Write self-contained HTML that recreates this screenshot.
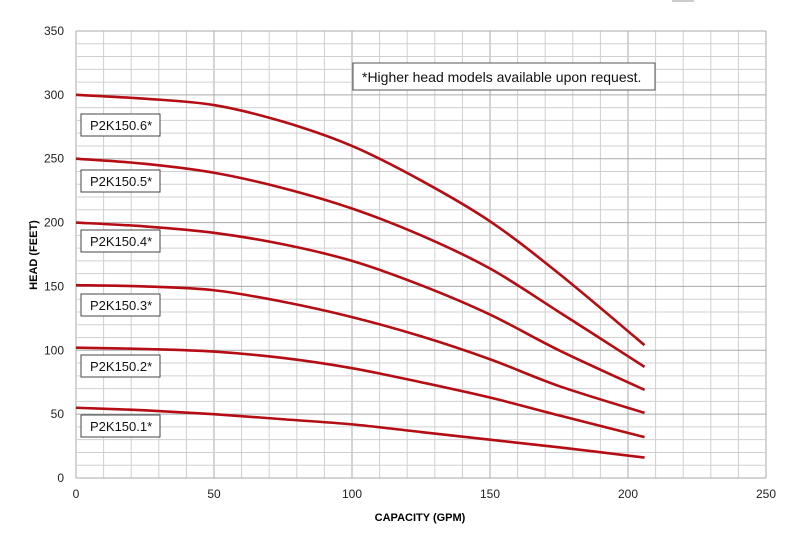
<!DOCTYPE html>
<html><head><meta charset="utf-8"><style>
body{margin:0;background:#fff;}
svg{display:block;font-family:"Liberation Sans",Arial,sans-serif;}
</style></head><body>
<svg id="c" width="800" height="533" viewBox="0 0 800 533">
<rect x="672" y="0" width="22" height="2" fill="#ccc"/>
<g id="grid"></g>
<g id="axes"></g>
<g id="series"></g>
<g id="labels"></g>
<rect x="353" y="63" width="302" height="27" fill="#fff" stroke="#555"/>
<text x="362" y="82" font-size="14" fill="#111">*Higher head models available upon request.</text>
<text x="420" y="521" font-size="11" font-weight="bold" text-anchor="middle">CAPACITY (GPM)</text>
<text x="0" y="0" font-size="11" font-weight="bold" text-anchor="middle" transform="translate(37,255) rotate(-90)">HEAD (FEET)</text>
</svg>
<script>
const xs=[0,25,50,75,100,125,150,175,206];
const seriesNames=["P2K150.1*","P2K150.2*","P2K150.3*","P2K150.4*","P2K150.5*","P2K150.6*"];
const s1=[55,53,50,46,42,36,30,24,16];
const s2=[102,101,99,94,86,75,63,49,32];
const s3=[151,150,147,138,126,111,93,72,51];
const s4=[200,197,192,183,170,151,128,100,69];
const s5=[250,246,239,227,211,190,164,130,87];
const s6=[300,297,292,279,260,233,201,160,104];
const xTicks=[0,50,100,150,200,250];
const yTicks=[0,50,100,150,200,250,300,350];
const labelY=[426,366,305,241,181,125];
const X=v=>76+v*(690/250), Y=v=>478-v*(447/350);
const NS="http://www.w3.org/2000/svg";
function mk(t,a,p){const e=document.createElementNS(NS,t);for(const k in a)e.setAttribute(k,a[k]);p.appendChild(e);return e;}
const g=document.getElementById('grid'),ax=document.getElementById('axes'),se=document.getElementById('series'),lb=document.getElementById('labels');
for(let v=0;v<=250;v+=10){const l=mk('line',{x1:X(v),x2:X(v),y1:Y(0),y2:Y(350),stroke:v%50?'#d0d0d0':'#aaa','stroke-width':1},g);

}
for(let v=0;v<=350;v+=10){const l=mk('line',{x1:X(0),x2:X(250),y1:Y(v),y2:Y(v),stroke:v%50?'#d0d0d0':'#aaa','stroke-width':1},g);

}
xTicks.forEach(v=>{const t=mk('text',{x:X(v),y:498,'font-size':12,'text-anchor':'middle',fill:'#222'},ax);t.textContent=v;

});
yTicks.forEach(v=>{const t=mk('text',{x:64,y:Y(v)+4,'font-size':12,'text-anchor':'end',fill:'#222'},ax);t.textContent=v;

});
function path(vals){const p=xs.map((x,i)=>[X(x),Y(vals[i])]);let d=`M${p[0][0]},${p[0][1]}`;
for(let i=0;i<p.length-1;i++){const p0=p[i-1]||p[i],p1=p[i],p2=p[i+1],p3=p[i+2]||p2;
d+=`C${p1[0]+(p2[0]-p0[0])/6},${p1[1]+(p2[1]-p0[1])/6} ${p2[0]-(p3[0]-p1[0])/6},${p2[1]-(p3[1]-p1[1])/6} ${p2[0]},${p2[1]}`;}return d;}
[s1,s2,s3,s4,s5,s6].forEach((s,i)=>{const e=mk('path',{d:path(s),fill:'none',stroke:'#b50d14','stroke-width':2.6},se);


const r=mk('rect',{x:81,y:labelY[i]-11,width:79,height:22,fill:'#fff',stroke:'#444'},lb);


const t=mk('text',{x:90,y:labelY[i]+5,'font-size':13,fill:'#111'},lb);t.textContent=seriesNames[i];

});
</script>
</body></html>
